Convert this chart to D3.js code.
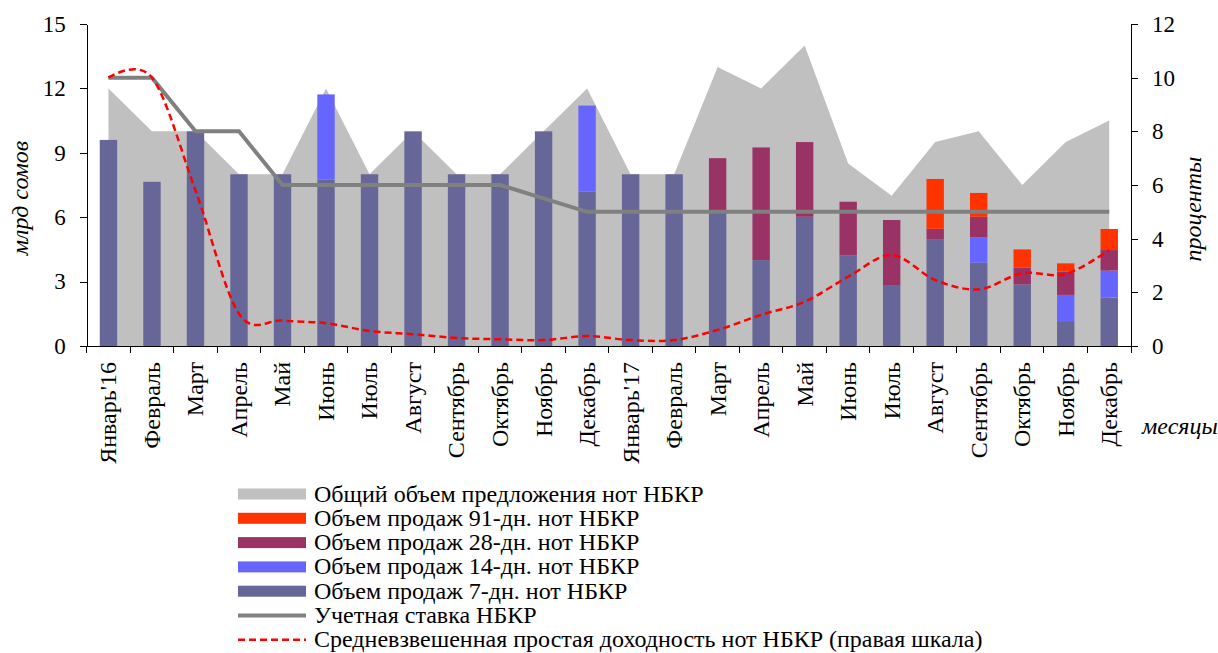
<!doctype html>
<html lang="ru">
<head>
<meta charset="UTF-8">
<title>Ноты НБКР</title>
<script src="https://d3js.org/d3.v7.min.js"></script>
<style>
body { margin: 0; background: #fff; }
svg { display: block; font-family: "Liberation Serif", "Times New Roman", serif; }
.axis path, .axis line { stroke: #000; shape-rendering: crispEdges; }
.axis text { font-family: "Liberation Serif", "Times New Roman", serif; font-size: 23px; fill: #000; }
.axis text.month { font-size: 24px; }
.title { font-style: italic; font-size: 24px; }
.legend text { font-size: 24px; }
</style>
</head>
<body>
<div id="plot"></div>
<script>

var months = ["Январь'16", "Февраль", "Март", "Апрель", "Май", "Июнь", "Июль", "Август",
  "Сентябрь", "Октябрь", "Ноябрь", "Декабрь", "Январь'17", "Февраль", "Март", "Апрель",
  "Май", "Июнь", "Июль", "Август", "Сентябрь", "Октябрь", "Ноябрь", "Декабрь"];

// млрд сомов
var totalOffer = [12, 10, 10, 8, 8, 12, 8, 10, 8, 8, 10, 12, 8, 8, 13, 12, 14, 8.5, 7, 9.5, 10, 7.5, 9.5, 10.5];
var sales7  = [9.6, 7.65, 10, 8, 8, 7.75, 8, 10, 8, 8, 10, 7.2, 8, 8, 6.2, 4.0, 6.02, 4.22, 2.84, 4.98, 3.88, 2.87, 1.16, 2.25];
var sales14 = [0, 0, 0, 0, 0, 3.97, 0, 0, 0, 0, 0, 4.0, 0, 0, 0, 0, 0, 0, 0, 0, 1.18, 0, 1.22, 1.26];
var sales28 = [0, 0, 0, 0, 0, 0, 0, 0, 0, 0, 0, 0, 0, 0, 2.55, 5.25, 3.48, 2.5, 3.03, 0.48, 0.96, 0.78, 1.08, 0.96];
var sales91 = [0, 0, 0, 0, 0, 0, 0, 0, 0, 0, 0, 0, 0, 0, 0, 0, 0, 0, 0, 2.32, 1.11, 0.85, 0.39, 0.98];

// проценты
var discountRate = [10, 10, 8, 8, 6, 6, 6, 6, 6, 6, 5.5, 5, 5, 5, 5, 5, 5, 5, 5, 5, 5, 5, 5, 5];
var avgYield = [10, 10, 5.8, 1.2, 0.95, 0.85, 0.56, 0.44, 0.3, 0.25, 0.22, 0.37, 0.22, 0.22, 0.6, 1.16, 1.65, 2.58, 3.39, 2.46, 2.11, 2.71, 2.68, 3.58];

var leftTicks = [0, 3, 6, 9, 12, 15];
var rightTicks = [0, 2, 4, 6, 8, 10, 12];

var legendLabels = [
  "Общий объем предложения нот НБКР",
  "Объем продаж 91-дн. нот НБКР",
  "Объем продаж 28-дн. нот НБКР",
  "Объем продаж 14-дн. нот НБКР",
  "Объем продаж 7-дн. нот НБКР",
  "Учетная ставка НБКР",
  "Средневзвешенная простая доходность нот НБКР (правая шкала)"
];

var width = 1218;
var height = 653;
var plotLeft = 86.7, plotRight = 1131, plotTop = 24, plotBottom = 346;

var colors = { area: "#c0c0c0", s91: "#ff3300", s28: "#993366", s14: "#6666ff", s7: "#666699", rate: "#808080", yield: "#ff0000" };

var svg = d3.select("#plot").append("svg")
  .attr("width", width)
  .attr("height", height);

var idx = d3.range(months.length);

var x = d3.scaleBand().domain(idx).range([plotLeft, plotRight]).paddingInner(0).paddingOuter(0);
var yL = d3.scaleLinear().domain([0, 15]).range([plotBottom, plotTop]);
var yR = d3.scaleLinear().domain([0, 12]).range([plotBottom, plotTop]);
var cx = function (i) { return x(i) + x.bandwidth() / 2; };

// total offer area
var area = d3.area()
  .x(function (d, i) { return cx(i); })
  .y0(yL(0))
  .y1(function (d) { return yL(d); });

svg.append("path")
  .attr("d", area(totalOffer))
  .style("fill", colors.area);

// stacked bars
var rows = idx.map(function (i) {
  return { i: i, s7: sales7[i], s14: sales14[i], s28: sales28[i], s91: sales91[i] };
});
var stack = d3.stack().keys(["s7", "s14", "s28", "s91"]);
var barW = x.bandwidth() * 0.4;

svg.selectAll("g.layer")
  .data(stack(rows))
  .enter().append("g")
  .attr("class", "layer")
  .style("fill", function (d) { return colors[d.key]; })
  .selectAll("rect")
  .data(function (d) { return d.filter(function (s) { return s[1] - s[0] > 0; }); })
  .enter().append("rect")
  .attr("x", function (d) { return cx(d.data.i) - barW / 2; })
  .attr("width", barW)
  .attr("y", function (d) { return yL(d[1]); })
  .attr("height", function (d) { return yL(d[0]) - yL(d[1]); });

// discount rate
var rateLine = d3.line()
  .x(function (d, i) { return cx(i); })
  .y(function (d) { return yR(d); });

svg.append("path")
  .attr("d", rateLine(discountRate))
  .style("fill", "none")
  .style("stroke", colors.rate)
  .style("stroke-width", 4);

// average yield, smoothed
var yieldLine = d3.line()
  .x(function (d, i) { return cx(i); })
  .y(function (d) { return yR(d); })
  .curve(d3.curveCatmullRom.alpha(0));

svg.append("path")
  .attr("d", yieldLine(avgYield))
  .style("fill", "none")
  .style("stroke", colors.yield)
  .style("stroke-width", 2.5)
  .style("stroke-dasharray", "7,4");

// axes
svg.append("g")
  .attr("class", "axis")
  .attr("transform", "translate(" + plotLeft + ",0)")
  .call(d3.axisLeft(yL).tickValues(leftTicks).tickSize(7).tickSizeOuter(0).tickPadding(14));

svg.append("g")
  .attr("class", "axis")
  .attr("transform", "translate(" + plotRight + ",0)")
  .call(d3.axisRight(yR).tickValues(rightTicks).tickSize(7).tickSizeOuter(0).tickPadding(14));

var xAxis = svg.append("g").attr("class", "axis");
xAxis.append("line")
  .attr("x1", plotLeft).attr("x2", plotRight)
  .attr("y1", plotBottom).attr("y2", plotBottom);
xAxis.selectAll("line.tick")
  .data(d3.range(months.length + 1))
  .enter().append("line")
  .attr("class", "tick")
  .attr("x1", function (i) { return plotLeft + i * x.step(); })
  .attr("x2", function (i) { return plotLeft + i * x.step(); })
  .attr("y1", plotBottom).attr("y2", plotBottom + 7);
xAxis.selectAll("text.month")
  .data(idx)
  .enter().append("text")
  .attr("class", "month")
  .attr("transform", function (i) { return "translate(" + cx(i) + "," + (plotBottom + 16) + ") rotate(-90)"; })
  .attr("dy", "0.33em")
  .attr("text-anchor", "end")
  .text(function (i) { return months[i]; });

// axis titles
svg.append("text")
  .attr("class", "title")
  .attr("transform", "translate(28,198) rotate(-90)")
  .attr("text-anchor", "middle")
  .text("млрд сомов");

svg.append("text")
  .attr("class", "title")
  .attr("transform", "translate(1201,209) rotate(-90)")
  .attr("text-anchor", "middle")
  .text("проценты");

svg.append("text")
  .attr("class", "title")
  .attr("x", 1142)
  .attr("y", 434)
  .text("месяцы");

// legend
var legendKinds = ["area", "s91", "s28", "s14", "s7", "rate", "yield"];
var legend = svg.append("g").attr("class", "legend");
var lx0 = 238, lx1 = 306, ly0 = 494, lstep = 24.3;

legendKinds.forEach(function (k, i) {
  var cy = ly0 + i * lstep;
  if (k === "rate" || k === "yield") {
    legend.append("line")
      .attr("x1", lx0).attr("x2", lx1)
      .attr("y1", cy).attr("y2", cy)
      .style("stroke", colors[k])
      .style("stroke-width", k === "rate" ? 4 : 2.5)
      .style("stroke-dasharray", k === "yield" ? "7,4" : null);
  } else {
    legend.append("rect")
      .attr("x", lx0).attr("y", cy - 5.5)
      .attr("width", lx1 - lx0).attr("height", 11)
      .style("fill", colors[k]);
  }
  legend.append("text")
    .attr("x", 314)
    .attr("y", cy + 7.5)
    .text(legendLabels[i]);
});

</script>
</body>
</html>
